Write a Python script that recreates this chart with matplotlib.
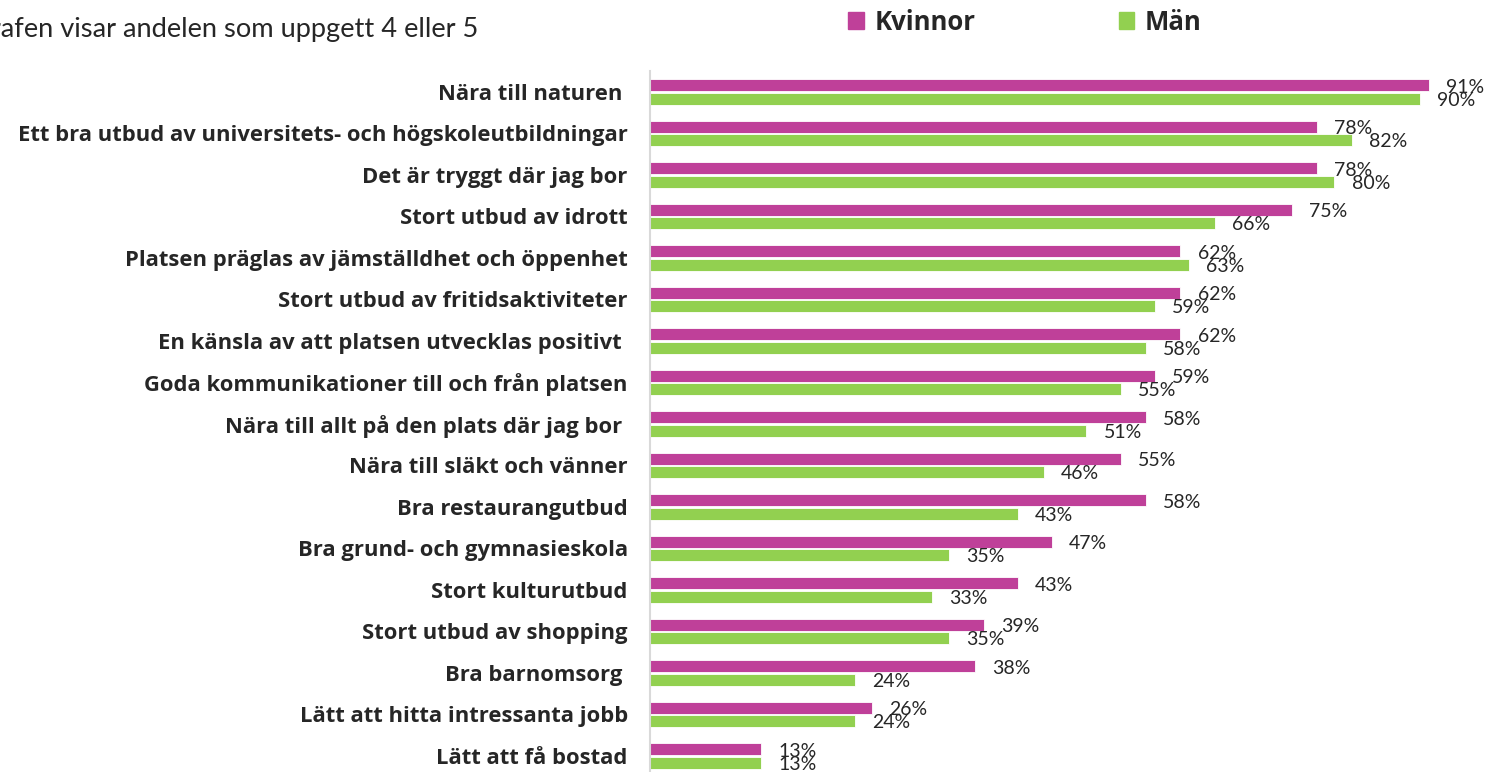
import numpy as np
import matplotlib.pyplot as plt
from matplotlib.patches import Patch

# Data
categories = [
    "Nära till naturen ",
    "Ett bra utbud av universitets- och högskoleutbildningar",
    "Det är tryggt där jag bor",
    "Stort utbud av idrott",
    "Platsen präglas av jämställdhet och öppenhet",
    "Stort utbud av fritidsaktiviteter",
    "En känsla av att platsen utvecklas positivt ",
    "Goda kommunikationer till och från platsen",
    "Nära till allt på den plats där jag bor ",
    "Nära till släkt och vänner",
    "Bra restaurangutbud",
    "Bra grund- och gymnasieskola",
    "Stort kulturutbud",
    "Stort utbud av shopping",
    "Bra barnomsorg ",
    "Lätt att hitta intressanta jobb",
    "Lätt att få bostad",
]
kvinnor = [91, 78, 78, 75, 62, 62, 62, 59, 58, 55, 58, 47, 43, 39, 38, 26, 13]
man = [90, 82, 80, 66, 63, 59, 58, 55, 51, 46, 43, 35, 33, 35, 24, 24, 13]

col_k = "#BF4099"
col_m = "#92D050"
txt = "#262626"

W, H = 1485, 772
fig = plt.figure(figsize=(W / 100, H / 100), dpi=100)

# Plot area: rows 41.5 px apart, first row centred at y=92 px
ax = fig.add_axes([650 / W, -0.00615, 1 - 650 / W, 705.5 / H])

y = np.arange(len(categories))
bh = 0.285
ax.barh(y - 0.16, kvinnor, height=bh, color=col_k, edgecolor="white", linewidth=0.6)
ax.barh(y + 0.16, man, height=bh, color=col_m, edgecolor="white", linewidth=0.6)

ax.set_xlim(0, 97.6)
ax.set_ylim(16.5, -0.5)

# Value labels (they overlap a bit, as in the original)
for i in range(len(categories)):
    ax.text(kvinnor[i] + 2.0, y[i] - 0.12, f"{kvinnor[i]}%", va="center", ha="left",
            fontsize=14, family="Lato", color=txt)
    ax.text(man[i] + 2.0, y[i] + 0.2, f"{man[i]}%", va="center", ha="left",
            fontsize=14, family="Lato", color=txt)

ax.set_yticks(y)
ax.set_yticklabels(categories, fontsize=15.8, fontweight="bold", family="Open Sans",
                   color=txt)
ax.tick_params(axis="y", length=0, pad=16)
ax.set_xticks([])
for s in ["top", "right", "bottom"]:
    ax.spines[s].set_visible(False)
ax.spines["left"].set_color("#D9D9D9")
ax.spines["left"].set_linewidth(1.5)

# Subtitle (left edge clipped as in the original)
fig.text(478 / W, 1 - 30 / H, "Grafen visar andelen som uppgett 4 eller 5", ha="right",
         va="center", fontsize=19.6, family="Lato", color=txt)

# Legend
handles = [Patch(color=col_k), Patch(color=col_m)]
fig.legend(handles, ["Kvinnor", "Män"], ncol=2, loc="center",
           bbox_to_anchor=(1025 / W, 1 - 22 / H), frameon=False,
           prop={"family": "Open Sans", "weight": "bold", "size": 18.5},
           handlelength=0.6, handleheight=0.6, handletextpad=0.4, columnspacing=5.6,
           labelcolor=txt, borderpad=0)

fig.savefig("out.png", dpi=100)
